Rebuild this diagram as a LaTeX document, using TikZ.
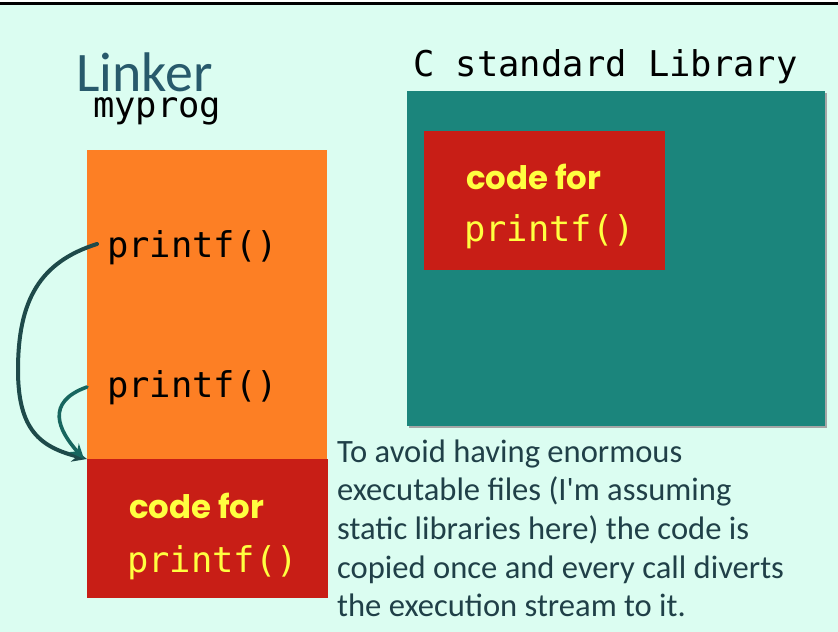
\documentclass[tikz,border=0pt]{standalone}
\usepackage{fontspec}
\setmainfont{Carlito}
\newfontfamily\monof{DejaVu Sans Mono}
\newfontfamily\handf{Poppins}
\usetikzlibrary{arrows.meta}
\definecolor{bgmint}{RGB}{219,253,241}
\definecolor{progorange}{RGB}{253,127,36}
\definecolor{codered}{RGB}{200,30,22}
\definecolor{libteal}{RGB}{27,133,124}
\definecolor{codeyellow}{RGB}{255,255,64}
\definecolor{notedark}{RGB}{32,64,72}
\definecolor{linkerblue}{RGB}{40,90,108}
\definecolor{arrowdark}{RGB}{30,74,74}
\definecolor{arrowteal}{RGB}{23,102,95}
\tikzset{
  block/.style={inner sep=0pt, outer sep=0pt, anchor=north west},
  monotext/.style={inner sep=0pt, anchor=base west, font=\monof\fontsize{35.6}{40}\selectfont},
  handtext/.style={inner sep=0pt, anchor=base west, text=codeyellow, font=\handf\bfseries\fontsize{32.5}{36}\selectfont},
  yellowmono/.style={monotext, text=codeyellow},
  callarrow/.style={-{Stealth[length=15bp,width=13bp]}, line cap=round},
}
\begin{document}
\begin{tikzpicture}[x=1bp,y=-1bp]
\useasboundingbox (0,0) rectangle (838,632);
\fill[white] (0,0) rectangle (838,632);
\fill[bgmint] (0,4) rectangle (838,632);
\draw[line width=2.2bp] (0,3.6) -- (838,3.6);
% titles
\node[inner sep=0pt, anchor=base west, text=linkerblue, font=\fontsize{56}{60}\selectfont] (linker) at (76,92) {Linker};
\node[monotext] (myprog) at (93,118) {myprog};
\node[monotext] (clib) at (413,77) {C standard Library};
% program blocks
\node[block, fill=progorange, minimum width=240bp, minimum height=309bp] (prog) at (87,150) {};
\node[block, fill=codered, minimum width=241bp, minimum height=139bp] (copy) at (87,459) {};
\node[monotext] (call1) at (107,257) {printf()};
\node[monotext] (call2) at (107,397) {printf()};
\node[handtext] (copycode) at (129,518) {code for};
\node[yellowmono] (copyfn) at (127,572) {printf()};
% library
\fill[black!35] (409,93) rectangle (827,428);
\node[block, fill=libteal, minimum width=418bp, minimum height=335bp] (lib) at (407,91) {};
\node[block, fill=codered, minimum width=241bp, minimum height=139bp] (libcode) at (424,131) {};
\node[handtext] (libcodetxt) at (466,190) {code for};
\node[yellowmono] (libfn) at (464,242) {printf()};
% note
\node[inner sep=0pt, anchor=north west, align=left, text=notedark, font=\fontsize{32.7}{38.75}\selectfont] (note) at (337,436)
 {\rule{0pt}{26bp}To avoid having enormous\\executable files (I\textquotesingle m assuming\\static libraries here) the code is\\copied once and every call diverts\\the execution stream to it.};
% arrows
\draw[callarrow, arrowdark, line width=4bp] ([shift={(-10,-13)}]call1.base west)
  .. controls (40,262) and (18,300) .. (18,370)
  .. controls (18,430) and (40,447) .. (copy.north west);
\draw[callarrow, arrowteal, line width=3.6bp] ([shift={(-20,-10)}]call2.base west)
  .. controls (45,402) and (58,430) .. ([xshift=-3bp]copy.north west);
\end{tikzpicture}
\end{document}
